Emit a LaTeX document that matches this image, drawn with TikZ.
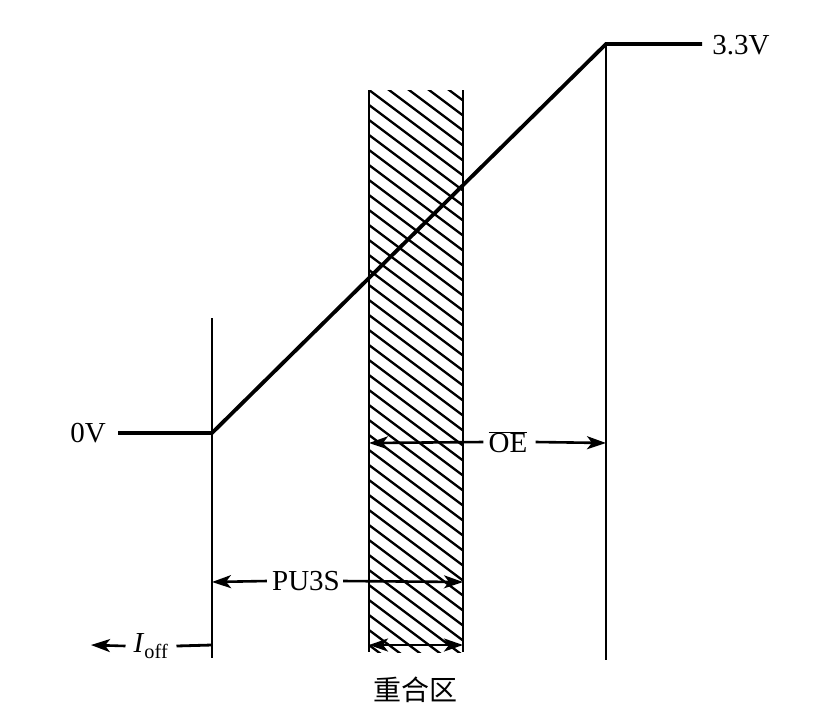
\documentclass[tikz,border=0pt]{standalone}
\usepackage{fontspec}
\setmainfont{Liberation Serif}
\newfontfamily\cjk{Noto Sans CJK SC}
\usetikzlibrary{arrows.meta}
\begin{document}
\begin{tikzpicture}[x=1pt,y=-1pt,
  lbl/.style={font=\fontsize{29}{32}\selectfont, inner sep=0pt},
  wire/.style={line width=3.8pt, line join=miter},
  guide/.style={line width=2.8pt},
  hatchline/.style={line width=2.3pt},
  dimarrow/.style={line width=2.6pt, -{Stealth[length=19pt,width=13pt,inset=5pt]}},
  dimboth/.style={line width=2.6pt, {Stealth[length=19pt,width=13pt,inset=5pt]}-{Stealth[length=19pt,width=13pt,inset=5pt]}},
  ]
\useasboundingbox (0,0) rectangle (829,718);
% hatched overlap band
\begin{scope}
  \clip (369,90) rectangle (463,652);
  \foreach \k in {-7,...,38} {
    \draw[hatchline] (369,{90+\k*15}) -- ++(100,75);
  }
\end{scope}
% named coordinates
\coordinate (bandTL) at (369,90);
\coordinate (bandBL) at (369,652);
\coordinate (bandTR) at (463,90);
\coordinate (bandBR) at (463,652);
\coordinate (lowStart) at (118,433);
\coordinate (lowEnd) at (212,433);
\coordinate (highStart) at (606,44);
\coordinate (highEnd) at (702,44);
\coordinate (leftTop) at (212,318);
\coordinate (leftBot) at (212,658);
\coordinate (rightBot) at (606,660);
\coordinate (oeL) at (369,443);
\coordinate (oeR) at (606,443);
\coordinate (puL) at (212,582);
\coordinate (puR) at (463,582);
\coordinate (ovL) at (369,645);
\coordinate (ovR) at (463,645);
\coordinate (ioffTip) at (91,645);
\coordinate (ioffR) at (212,645);
% band edges
\draw[guide] (bandTL) -- (bandBL);
\draw[guide] (bandTR) -- (bandBR);
% guide verticals
\draw[guide] (leftTop) -- (leftBot);
\draw[guide] (highStart) -- (rightBot);
% signal
\draw[wire] (lowStart) -- (lowEnd) -- (highStart) -- (highEnd);
% labels
\node[lbl] (v33) at (741,45) {3.3V};
\node[lbl] (v0) at (88,433) {0V};
\node[lbl] (oe) at (508,442) {$\overline{\hbox{OE}}$};
\node[lbl] (pu) at (306,581) {PU3S};
\node[lbl] (ioff) at (151,646) {\textit{I}\textsubscript{off}};
\node[lbl, font=\cjk\fontsize{28}{30}\selectfont] (zone) at (415,690) {重合区};
% dimension arrows
\draw[dimarrow] ([xshift=-5pt]oe.west) -- (oeL);
\draw[dimarrow] ([xshift=8pt]oe.east) -- (oeR);
\draw[dimarrow] ([xshift=-5pt]pu.west) -- (puL);
\draw[dimarrow] ([xshift=3pt]pu.east) -- (puR);
\draw[dimboth] (ovL) -- (ovR);
\draw[dimarrow] ([xshift=-8pt]ioff.west) -- (ioffTip);
\draw[guide] ([xshift=8pt]ioff.east) -- (ioffR);
\end{tikzpicture}
\end{document}
